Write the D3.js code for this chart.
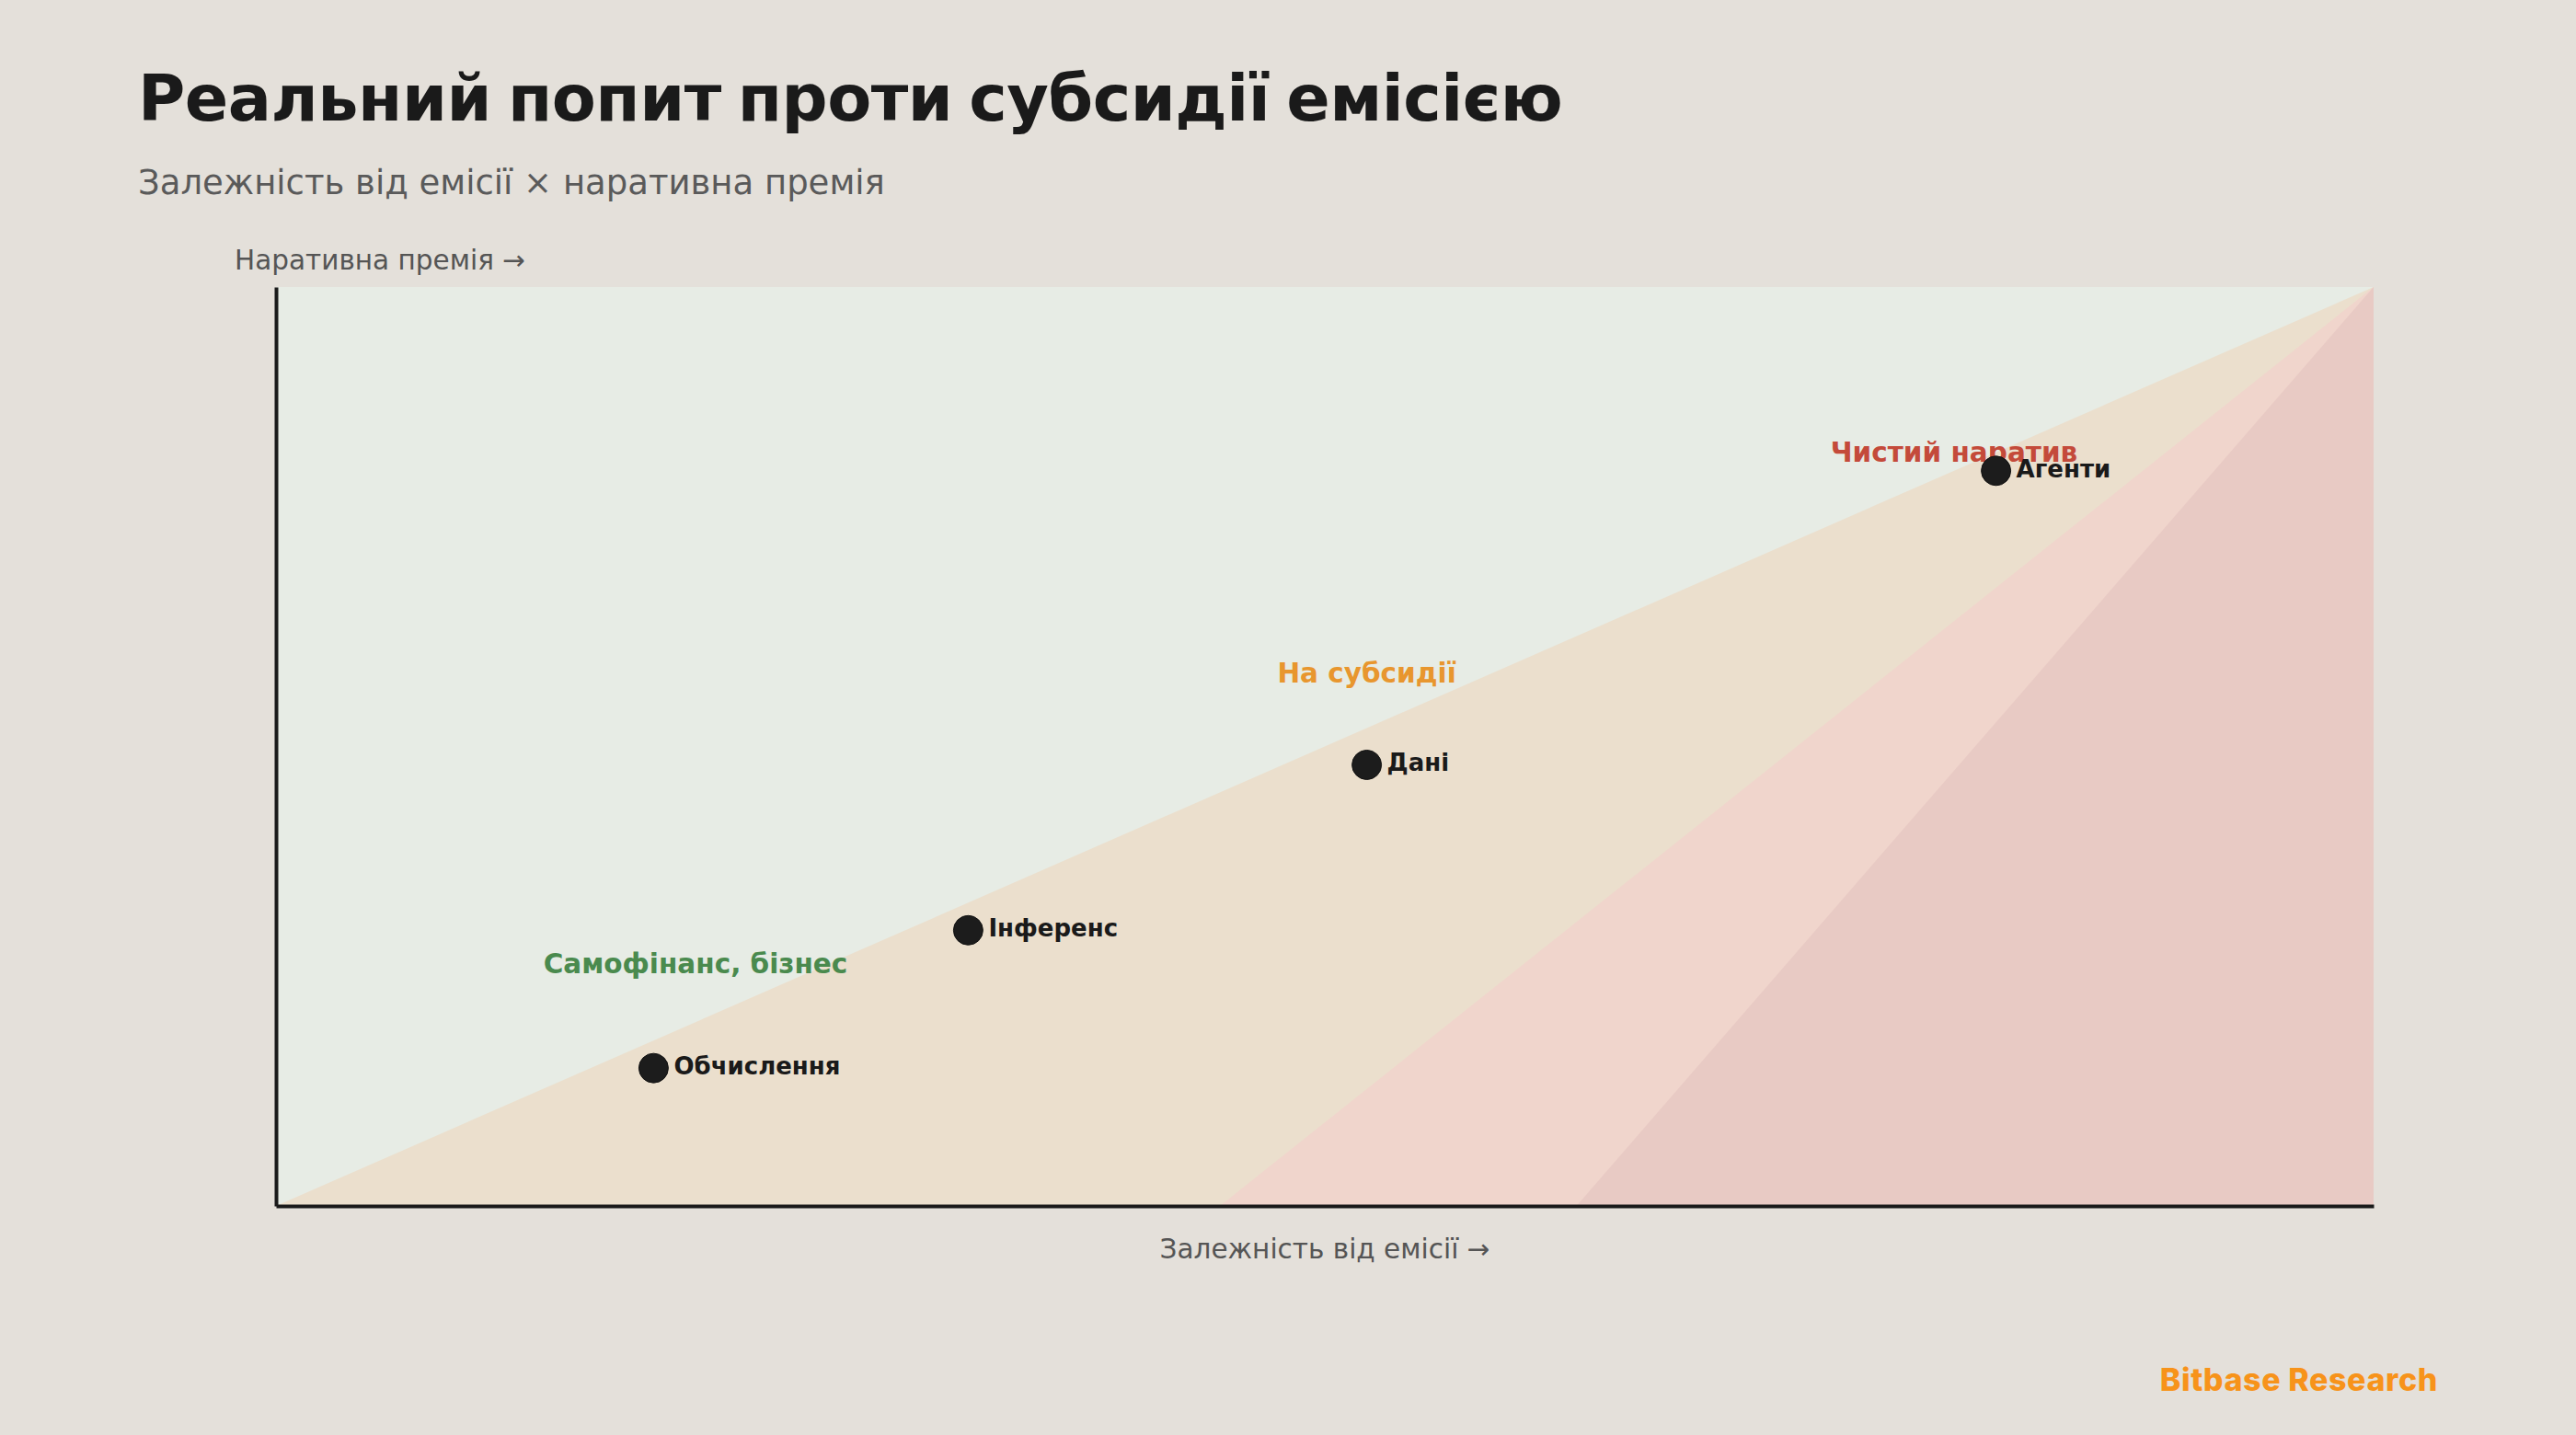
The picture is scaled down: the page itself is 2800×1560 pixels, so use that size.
<!DOCTYPE html>
<html>
<head>
<meta charset="utf-8">
<script src="https://cdn.jsdelivr.net/npm/d3@7"></script>
<style>
  html, body { margin: 0; padding: 0; background: #e4e0da; }
  svg { display: block; }
</style>
</head>
<body>
<div id="chart"></div>
<script>
  var sectors = ['Обчислення', 'Інференс', 'Дані', 'Агенти'];
  var emissionDependence = [18, 33, 52, 82];
  var narrativePremium = [15, 30, 48, 80];

  var zoneNames = ['Самофінанс, бізнес', 'На субсидії', 'Чистий наратив'];
  var zoneLabelX = [20, 52, 80];
  var zoneLabelY = [25.3, 57, 81];
  var zoneColors = ['#4a8a4e', '#e8962e', '#c44a3a'];

  // zone boundaries: x where each band meets the bottom axis, all meeting top-right
  var zoneStartX = [0, 45, 62];
  var zoneFills = ['#ebdfcd', '#f0d5cc', '#e8cac4'];

  var W = 2800, H = 1560;
  var plot = { left: 300, right: 2580, top: 312, bottom: 1311 };

  var svg = d3.select('#chart').append('svg')
    .attr('width', W)
    .attr('height', H);

  svg.append('rect')
    .attr('width', W)
    .attr('height', H)
    .attr('fill', '#e4e0da');

  var x = d3.scaleLinear().domain([0, 100]).range([plot.left, plot.right]);
  var y = d3.scaleLinear().domain([0, 100]).range([plot.bottom, plot.top]);

  // base (upper) zone
  svg.append('rect')
    .attr('x', x(0))
    .attr('y', y(100))
    .attr('width', x(100) - x(0))
    .attr('height', y(0) - y(100))
    .attr('fill', '#e7ece5');

  var line = d3.line()
    .x(function(d) { return x(d[0]); })
    .y(function(d) { return y(d[1]); });

  svg.append('g').selectAll('path')
    .data(zoneStartX)
    .join('path')
    .attr('d', function(d) { return line([[d, 0], [100, 100], [100, 0]]) + 'Z'; })
    .attr('fill', function(d, i) { return zoneFills[i]; });

  // axes as plain lines, no ticks
  var axisG = svg.append('g');
  axisG.append('g')
    .attr('transform', 'translate(0,' + y(0) + ')')
    .call(d3.axisBottom(x).tickValues([]).tickSizeOuter(0))
    .call(function(g) { g.select('.domain').attr('stroke', '#1a1a1a').attr('stroke-width', 4); });
  axisG.append('g')
    .attr('transform', 'translate(' + x(0) + ',0)')
    .call(d3.axisLeft(y).tickValues([]).tickSizeOuter(0))
    .call(function(g) { g.select('.domain').attr('stroke', '#1a1a1a').attr('stroke-width', 4); });

  var font = 'DejaVu Sans, sans-serif';

  svg.append('g').selectAll('text')
    .data(zoneNames)
    .join('text')
    .attr('x', function(d, i) { return x(zoneLabelX[i]); })
    .attr('y', function(d, i) { return y(zoneLabelY[i]); })
    .attr('text-anchor', 'middle')
    .attr('font-family', font)
    .attr('font-weight', 'bold')
    .attr('font-size', 29.5)
    .attr('fill', function(d, i) { return zoneColors[i]; })
    .text(function(d) { return d; });

  var points = sectors.map(function(name, i) {
    return { name: name, ex: emissionDependence[i], np: narrativePremium[i] };
  });

  var dots = svg.append('g').selectAll('g')
    .data(points)
    .join('g')
    .attr('transform', function(d) { return 'translate(' + x(d.ex) + ',' + y(d.np) + ')'; });

  dots.append('circle')
    .attr('r', 16)
    .attr('fill', '#1c1c1c')
    .attr('stroke', '#111')
    .attr('stroke-width', 1);

  dots.append('text')
    .attr('x', 22)
    .attr('y', 7)
    .attr('font-family', font)
    .attr('font-weight', 'bold')
    .attr('font-size', 26)
    .attr('fill', '#1a1a1a')
    .text(function(d) { return d.name; });

  // titles
  svg.append('text')
    .attr('x', 150)
    .attr('y', 131)
    .attr('font-family', font)
    .attr('font-weight', 'bold')
    .attr('font-size', 70)
    .attr('letter-spacing', -0.5)
    .attr('word-spacing', -6)
    .attr('fill', '#1a1a1a')
    .text('Реальний попит проти субсидії емісією');

  svg.append('text')
    .attr('x', 150)
    .attr('y', 211)
    .attr('font-family', font)
    .attr('font-size', 37)
    .attr('fill', '#5a5a5a')
    .text('Залежність від емісії × наративна премія');

  svg.append('text')
    .attr('x', 255)
    .attr('y', 293)
    .attr('font-family', font)
    .attr('font-size', 29.5)
    .attr('fill', '#555')
    .text('Наративна премія →');

  svg.append('text')
    .attr('x', (plot.left + plot.right) / 2)
    .attr('y', 1368)
    .attr('text-anchor', 'middle')
    .attr('font-family', font)
    .attr('font-size', 29.5)
    .attr('fill', '#555')
    .text('Залежність від емісії →');

  svg.append('text')
    .attr('x', 2650)
    .attr('y', 1512)
    .attr('text-anchor', 'end')
    .attr('font-family', 'Inter, Roboto, sans-serif')
    .attr('font-weight', 800)
    .attr('font-size', 34)
    .attr('letter-spacing', 0.6)
    .attr('fill', '#f7931a')
    .text('Bitbase Research');
</script>
</body>
</html>
